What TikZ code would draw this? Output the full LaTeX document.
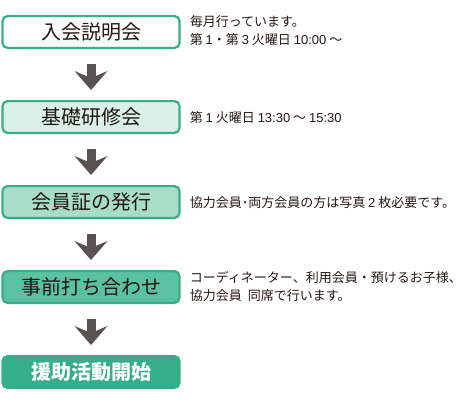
\documentclass[tikz,border=0pt]{standalone}
\usepackage{fontspec}
\setmainfont{Noto Sans CJK JP}
\newfontfamily\numfont{Liberation Sans}
\usepackage{xcolor}
\usetikzlibrary{positioning,arrows.meta}
\definecolor{flowgreen}{HTML}{36AE8A}
\definecolor{fillone}{HTML}{FFFFFF}
\definecolor{filltwo}{HTML}{D8F0E8}
\definecolor{fillthree}{HTML}{A8DDCA}
\definecolor{fillfour}{HTML}{5CC1A0}
\definecolor{fillfive}{HTML}{34AF8A}
\definecolor{arrowgray}{HTML}{595152}
\definecolor{inkblack}{HTML}{231815}
\newcommand{\num}[1]{{\numfont #1}}

\begin{document}
\begin{tikzpicture}[
  stepbox/.style={draw=flowgreen, line width=2.2pt, rounded corners=5pt,
    minimum width=177pt, minimum height=31.8pt, inner sep=0pt,
    text=inkblack, font=\fontsize{20}{22}\selectfont},
  note/.style={anchor=west, align=left, inner sep=0pt, text=inkblack,
    font=\fontsize{13}{18}\selectfont},
  downarrow/.style={arrowgray, line width=9pt, shorten <=15pt, shorten >=10pt,
    -{Stealth[length=19pt, width=33pt, inset=7pt, line width=0pt]}}
]
  \useasboundingbox (0,0) rectangle (466pt,-400pt);

  % steps
  \node[stepbox, fill=fillone] (setsumei) at (91pt,-32pt) {入会説明会};
  \node[stepbox, fill=filltwo, below=51pt of setsumei] (kenshu) {基礎研修会};
  \node[stepbox, fill=fillthree, below=51pt of kenshu] (kaiinsho) {会員証の発行};
  \node[stepbox, fill=fillfour, below=51pt of kaiinsho] (uchiawase) {事前打ち合わせ};
  \node[stepbox, draw=fillfive, fill=fillfive, text=white, font=\fontsize{20}{22}\selectfont\bfseries,
    below=51pt of uchiawase] (katsudo) {援助活動開始};

  % arrows
  \draw[downarrow] (setsumei) -- (kenshu);
  \draw[downarrow] (kenshu) -- (kaiinsho);
  \draw[downarrow] (kaiinsho) -- (uchiawase);
  \draw[downarrow] (uchiawase) -- (katsudo);

  % notes
  \node[note, right=9pt of setsumei, yshift=1pt] (notesetsumei) {毎月行っています。\\第 \num{1}・第 \num{3} 火曜日 \num{10:00} ～};
  \node[note, right=9pt of kenshu, yshift=-1pt] (notekenshu) {第 \num{1} 火曜日 \num{13:30} ～ \num{15:30}};
  \node[note, right=9pt of kaiinsho, yshift=-1pt] (notekaiinsho) {協力会員･両方会員の方は写真 \num{2} 枚必要です。};
  \node[note, right=9pt of uchiawase] (noteuchiawase) {コーディネーター、利用会員・預けるお子様、\\協力会員\hspace{6pt}同席で行います。};
\end{tikzpicture}
\end{document}
